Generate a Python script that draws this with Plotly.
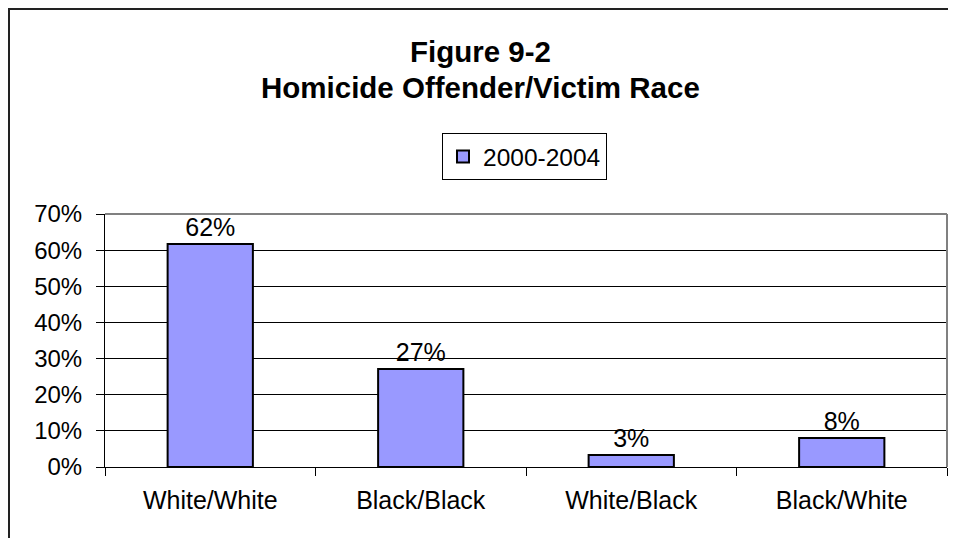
import plotly.graph_objects as go

categories = ["White/White", "Black/Black", "White/Black", "Black/White"]
values = [0.617, 0.271, 0.033, 0.080]
series_name = "2000-2004"
title_lines = ["Figure 9-2", "Homicide Offender/Victim Race"]
y_ticks = [0, 0.1, 0.2, 0.3, 0.4, 0.5, 0.6, 0.7]
y_ticklabels = ["0%", "10%", "20%", "30%", "40%", "50%", "60%", "70%"]

FONT = "Liberation Sans, Arial, sans-serif"

# page body adds an 8px offset, figure is sized to fit the window
W, H = 940, 530
ml, mt = 97, 206
plot_right, plot_bottom = 939, 459
mr, mb = W - plot_right, H - plot_bottom
pw = W - ml - mr
ph = H - mt - mb


def px_x(x):
    return (x - ml) / pw


def px_y(y):
    return (H - mb - y) / ph


fig = go.Figure()
fig.add_trace(go.Bar(
    x=categories, y=values, name=series_name,
    marker=dict(color="#9999FF", line=dict(color="black", width=2)),
    width=0.405,
    texttemplate="%{y:.0%}", textposition="outside",
    textfont=dict(family=FONT, size=25, color="black"),
    cliponaxis=False, showlegend=True,
))

annotations = [
    dict(text="<b>%s</b>" % title_lines[0], xref="paper", yref="paper",
         x=px_x(472), y=px_y(44), xanchor="center", yanchor="middle",
         showarrow=False, font=dict(family=FONT, size=29.5, color="black")),
    dict(text="<b>%s</b>" % title_lines[1], xref="paper", yref="paper",
         x=px_x(472), y=px_y(79), xanchor="center", yanchor="middle",
         showarrow=False, font=dict(family=FONT, size=29.5, color="black")),
]

fig.update_layout(
    width=W, height=H,
    margin=dict(l=ml, r=mr, t=mt, b=mb, autoexpand=False),
    paper_bgcolor="white", plot_bgcolor="white",
    font=dict(family=FONT, color="black"),
    annotations=annotations,
    legend=dict(
        orientation="h", x=px_x(434), xanchor="left",
        y=px_y(125), yanchor="top",
        bordercolor="black", borderwidth=1,
        font=dict(family=FONT, size=24.5, color="black"),
        itemwidth=30,
    ),
    bargap=0.595,
    xaxis=dict(
        showgrid=False, showline=True, linecolor="black", linewidth=1,
        ticks="outside", tickson="boundaries", ticklen=8, tickcolor="black",
        tickfont=dict(family=FONT, size=25, color="black"),
        ticklabelstandoff=11, automargin=False,
    ),
    yaxis=dict(
        range=[0, 0.7], tickvals=y_ticks, ticktext=y_ticklabels,
        showgrid=True, gridcolor="black", gridwidth=1,
        showline=True, linecolor="black", linewidth=1,
        ticks="outside", ticklen=8, tickcolor="black",
        tickfont=dict(family=FONT, size=24, color="black"),
        ticklabelstandoff=9, zeroline=False, automargin=False,
    ),
    shapes=[
        dict(type="line", xref="paper", yref="paper", x0=0, x1=1, y0=1, y1=1,
             line=dict(color="#808080", width=2), layer="above"),
        dict(type="line", xref="paper", yref="paper", x0=1, x1=1, y0=0, y1=1,
             line=dict(color="#808080", width=2), layer="above"),
        # outer chart border: top and left edges (right/bottom run off the page)
        dict(type="line", xref="paper", yref="paper",
             x0=px_x(0), x1=px_x(W + 20), y0=px_y(1), y1=px_y(1),
             line=dict(color="#222222", width=2), layer="above"),
        dict(type="line", xref="paper", yref="paper",
             x0=px_x(1), x1=px_x(1), y0=px_y(0), y1=px_y(H + 20),
             line=dict(color="#222222", width=2), layer="above"),
    ],
)

fig.write_html("out.html")
